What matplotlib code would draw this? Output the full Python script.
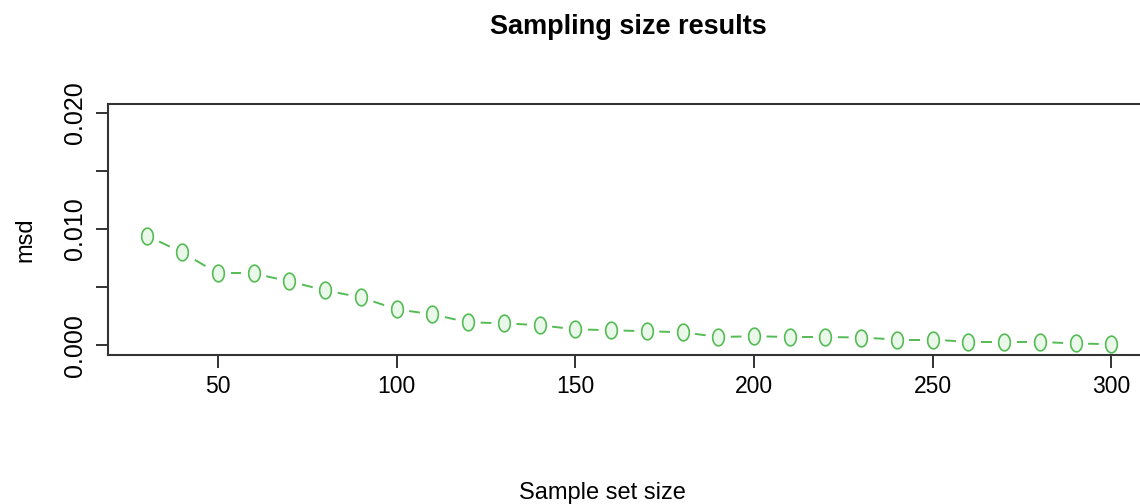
import numpy as np
import matplotlib
matplotlib.use('Agg')
import matplotlib.pyplot as plt
from matplotlib.path import Path

# sample set sizes and msd values
sample_sizes = [30, 40, 50, 60, 70, 80, 90, 100, 110, 120, 130, 140, 150, 160,
                170, 180, 190, 200, 210, 220, 230, 240, 250, 260, 270, 280, 290, 300]
msd = [0.00944, 0.00798, 0.00618, 0.00618, 0.00549, 0.00472, 0.00412, 0.00309,
       0.00266, 0.00197, 0.00189, 0.00172, 0.00137, 0.00129, 0.00120, 0.00112,
       0.00071, 0.00077, 0.00071, 0.00071, 0.00066, 0.00049, 0.00049, 0.00028,
       0.00028, 0.00028, 0.00015, 0.00009]
y_ticks = [0.0, 0.005, 0.010, 0.015, 0.020]
y_tick_labels = ['0.000', '', '0.010', '', '0.020']
x_ticks = [50, 100, 150, 200, 250, 300]

font = ['Liberation Sans', 'DejaVu Sans']
line_col = '#55bb55'

fig = plt.figure(figsize=(11.4, 5.04), dpi=100)
ax = fig.add_axes([0.0947, 0.2966, 0.914, 0.498])

# R style type="b": short dashes between points, leaving gaps around markers
x = np.array(sample_sizes, dtype=float)
y = np.array(msd)
for i in range(len(x) - 1):
    xs = [x[i] + 0.35 * (x[i + 1] - x[i]), x[i] + 0.65 * (x[i + 1] - x[i])]
    ys = [y[i] + 0.35 * (y[i + 1] - y[i]), y[i] + 0.65 * (y[i + 1] - y[i])]
    ax.plot(xs, ys, color=line_col, lw=1.4, solid_capstyle='butt')

# slightly tall open circle (picture is stretched vertically)
t = np.linspace(0, 2 * np.pi, 60)
ell = Path(np.column_stack([0.7 * np.cos(t), np.sin(t)]), closed=True)
ax.plot(x, y, linestyle='none', marker=ell, markersize=12,
        markerfacecolor='#eaf8ea', markeredgecolor=line_col, markeredgewidth=1.2)

ax.set_xlim(19.2, 310.8)
ax.set_ylim(-0.0008, 0.0208)

ax.set_xticks(x_ticks)
ax.set_xticklabels([str(v) for v in x_ticks], family=font, fontsize=16.5)
ax.set_yticks(y_ticks)
ax.set_yticklabels(y_tick_labels, family=font, fontsize=18, rotation=90, va='center')
ax.tick_params(axis='x', length=9, width=1.3, color='#222222', pad=6)
ax.tick_params(axis='y', length=9, width=1.3, color='#222222', pad=6)

for s in ax.spines.values():
    s.set_linewidth(1.5)
    s.set_color('#333333')

fig.text(25 / 1140, 1 - 240 / 504, 'msd', family=font, fontsize=17, rotation=90,
         ha='center', va='center')
fig.text(602 / 1140, 1 - 493 / 504, 'Sample set size', family=font, fontsize=17,
         ha='center', va='center')
fig.text(628 / 1140, 1 - 27 / 504, 'Sampling size results', family=font, fontsize=19.5,
         fontweight='bold', ha='center', va='center')

fig.savefig('out.png', dpi=100)
